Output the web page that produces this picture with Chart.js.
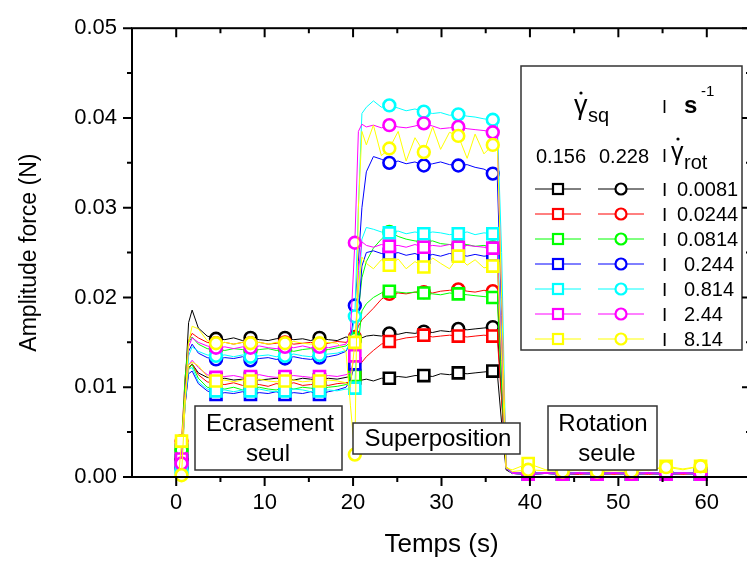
<!DOCTYPE html>
<html>
<head>
<meta charset="utf-8">
<title>Amplitude force vs temps</title>
<script src="https://cdn.jsdelivr.net/npm/chart.js"></script>
<style>
  html, body { margin: 0; padding: 0; overflow: hidden; background: #fff; }
  canvas { display: block; }
</style>
</head>
<body>
<canvas id="forceChart" width="760" height="562"></canvas>
<script>
// time grid (s), shared by all series
const times = [0, 0.3, 0.6, 1.0, 1.4, 1.8, 2.5, 3.5,
  4.5, 5.5, 6.5, 7.5, 8.4, 9.4, 10.4, 11.3, 12.3, 13.3, 14.3, 15.2, 16.2, 17.2, 18.2, 19.2, 19.7,
  20.2, 20.6, 21.0, 21.5, 22.3, 23.2,
  24.1, 25.1, 26.0, 27.0, 28.0, 29.0, 29.9, 30.9, 31.9, 32.9, 33.8, 34.8, 35.8, 36.3,
  36.8, 37.3,
  38.0, 39.8, 41.8, 43.7, 45.6, 47.6, 49.5, 51.5, 53.4, 55.4, 57.3, 59.3, 60.0];
// times where a marker is drawn
const markerTimes = [0.6, 4.5, 8.4, 12.3, 16.2, 20.2, 24.1, 28.0, 31.9, 35.8, 39.8, 43.7, 47.6, 51.5, 55.4, 59.3];

const sqRates = ['0.156', '0.228'];
const rotRates = ['0.0081', '0.0244', '0.0814', '0.244', '0.814', '2.44', '8.14'];
const xTicks = [0, 10, 20, 30, 40, 50, 60];
const yTicks = [0, 0.01, 0.02, 0.03, 0.04, 0.05];

// amplitude force (N), squeeze rate 0.156 s-1 (squares)
const s156_r0_0081 = [0, 0.0003, 0.0030, 0.0095, 0.0122, 0.0126, 0.0116, 0.0111,
  0.0109, 0.0110, 0.0108, 0.0109, 0.0110, 0.0108, 0.0109, 0.0110, 0.0109, 0.0108, 0.0110, 0.0109, 0.0108, 0.0110, 0.0109, 0.0111, 0.0112,
  0.0111, 0.0109, 0.0108, 0.0109, 0.0107, 0.0110,
  0.0110, 0.0112, 0.0111, 0.0113, 0.0113, 0.0112, 0.0115, 0.0114, 0.0116, 0.0115, 0.0116, 0.0117, 0.0118, 0.0117,
  0.0060, 0.0008,
  0.0004, 0.0003, 0.0004, 0.0003, 0.0004, 0.0003, 0.0004, 0.0003, 0.0004, 0.0003, 0.0004, 0.0003, 0.0003];
const s156_r0_0244 = [0, 0.0001, 0.0015, 0.0080, 0.0120, 0.0126, 0.0114, 0.0106,
  0.0104, 0.0103, 0.0105, 0.0102, 0.0104, 0.0103, 0.0101, 0.0104, 0.0103, 0.0105, 0.0102, 0.0103, 0.0104, 0.0102, 0.0104, 0.0105, 0.0106,
  0.0110, 0.0122, 0.0128, 0.0134, 0.0141, 0.0148,
  0.0151, 0.0153, 0.0155, 0.0156, 0.0158, 0.0156, 0.0157, 0.0158, 0.0157, 0.0156, 0.0157, 0.0158, 0.0157, 0.0157,
  0.0085, 0.0010,
  0.0004, 0.0003, 0.0004, 0.0003, 0.0003, 0.0004, 0.0003, 0.0004, 0.0003, 0.0004, 0.0003, 0.0004, 0.0003];
const s156_r0_0814 = [0, 0.0002, 0.0029, 0.0090, 0.0122, 0.0125, 0.0110, 0.0100,
  0.0099, 0.0098, 0.0100, 0.0097, 0.0099, 0.0100, 0.0098, 0.0097, 0.0099, 0.0098, 0.0100, 0.0099, 0.0098, 0.0100, 0.0101, 0.0103, 0.0106,
  0.0113, 0.0150, 0.0185, 0.0193, 0.0200, 0.0205,
  0.0207, 0.0206, 0.0205, 0.0206, 0.0205, 0.0204, 0.0203, 0.0205, 0.0204, 0.0203, 0.0202, 0.0201, 0.0200, 0.0199,
  0.0100, 0.0010,
  0.0004, 0.0003, 0.0004, 0.0003, 0.0004, 0.0003, 0.0004, 0.0003, 0.0004, 0.0003, 0.0004, 0.0003, 0.0003];
const s156_r0_244 = [0, 0.0002, 0.0018, 0.0080, 0.0115, 0.0118, 0.0104, 0.0096,
  0.0092, 0.0094, 0.0093, 0.0095, 0.0092, 0.0094, 0.0093, 0.0095, 0.0092, 0.0094, 0.0093, 0.0095, 0.0092, 0.0095, 0.0097, 0.0100, 0.0108,
  0.0126, 0.0180, 0.0235, 0.0250, 0.0252, 0.0249,
  0.0248, 0.0250, 0.0247, 0.0249, 0.0245, 0.0248, 0.0246, 0.0249, 0.0248, 0.0246, 0.0248, 0.0246, 0.0247, 0.0245,
  0.0120, 0.0010,
  0.0004, 0.0003, 0.0004, 0.0003, 0.0004, 0.0003, 0.0004, 0.0003, 0.0004, 0.0003, 0.0004, 0.0003, 0.0003];
const s156_r0_814 = [0, 0.0001, 0.0010, 0.0085, 0.0120, 0.0122, 0.0106, 0.0098,
  0.0096, 0.0097, 0.0095, 0.0097, 0.0096, 0.0098, 0.0096, 0.0095, 0.0096, 0.0098, 0.0097, 0.0095, 0.0096, 0.0097, 0.0096, 0.0098, 0.0098,
  0.0099, 0.0200, 0.0265, 0.0278, 0.0276, 0.0273,
  0.0272, 0.0274, 0.0271, 0.0273, 0.0271, 0.0273, 0.0272, 0.0270, 0.0271, 0.0273, 0.0270, 0.0272, 0.0271, 0.0270,
  0.0150, 0.0010,
  0.0004, 0.0003, 0.0004, 0.0003, 0.0004, 0.0003, 0.0004, 0.0003, 0.0004, 0.0003, 0.0004, 0.0003, 0.0003];
const s156_r2_44 = [0, 0.0002, 0.0020, 0.0090, 0.0125, 0.0130, 0.0122, 0.0114,
  0.0111, 0.0112, 0.0113, 0.0111, 0.0112, 0.0114, 0.0112, 0.0111, 0.0112, 0.0113, 0.0112, 0.0111, 0.0112, 0.0113, 0.0112, 0.0114, 0.0116,
  0.0135, 0.0230, 0.0262, 0.0258, 0.0256, 0.0259,
  0.0257, 0.0258, 0.0256, 0.0259, 0.0256, 0.0258, 0.0257, 0.0259, 0.0256, 0.0258, 0.0257, 0.0256, 0.0255, 0.0254,
  0.0140, 0.0010,
  0.0004, 0.0003, 0.0004, 0.0003, 0.0004, 0.0003, 0.0004, 0.0003, 0.0004, 0.0003, 0.0004, 0.0003, 0.0003];
const s156_r8_14 = [0, 0.0003, 0.0040, 0.0090, 0.0125, 0.0128, 0.0124, 0.0112,
  0.0107, 0.0108, 0.0106, 0.0108, 0.0107, 0.0109, 0.0107, 0.0106, 0.0107, 0.0108, 0.0106, 0.0107, 0.0107, 0.0108, 0.0107, 0.0105, 0.0100,
  0.0150, 0.0208, 0.0245, 0.0238, 0.0232, 0.0242,
  0.0236, 0.0243, 0.0232, 0.0240, 0.0234, 0.0244, 0.0238, 0.0232, 0.0246, 0.0236, 0.0242, 0.0233, 0.0235, 0.0240,
  0.0130, 0.0010,
  0.0008, 0.0015, 0.0008, 0.0010, 0.0007, 0.0009, 0.0008, 0.0010, 0.0007, 0.0012, 0.0009, 0.0012, 0.0008];

// amplitude force (N), squeeze rate 0.228 s-1 (circles)
const s228_r0_0081 = [0, 0.0002, 0.0020, 0.0100, 0.0172, 0.0186, 0.0166, 0.0157,
  0.0154, 0.0153, 0.0155, 0.0152, 0.0155, 0.0153, 0.0152, 0.0154, 0.0155, 0.0153, 0.0154, 0.0152, 0.0155, 0.0153, 0.0152, 0.0156, 0.0155,
  0.0153, 0.0152, 0.0155, 0.0157, 0.0158, 0.0157,
  0.0160, 0.0159, 0.0161, 0.0160, 0.0162, 0.0161, 0.0163, 0.0162, 0.0165, 0.0164, 0.0165, 0.0166, 0.0167, 0.0166,
  0.0090, 0.0010,
  0.0005, 0.0004, 0.0005, 0.0004, 0.0005, 0.0004, 0.0005, 0.0004, 0.0005, 0.0004, 0.0005, 0.0004, 0.0004];
const s228_r0_0244 = [0, 0.0004, 0.0040, 0.0110, 0.0152, 0.0160, 0.0155, 0.0150,
  0.0149, 0.0150, 0.0148, 0.0150, 0.0149, 0.0150, 0.0148, 0.0149, 0.0150, 0.0148, 0.0149, 0.0150, 0.0148, 0.0149, 0.0151, 0.0150, 0.0152,
  0.0156, 0.0168, 0.0175, 0.0180, 0.0188, 0.0198,
  0.0204, 0.0205, 0.0204, 0.0206, 0.0206, 0.0205, 0.0207, 0.0208, 0.0209, 0.0207, 0.0206, 0.0208, 0.0207, 0.0206,
  0.0110, 0.0012,
  0.0005, 0.0004, 0.0005, 0.0004, 0.0005, 0.0004, 0.0005, 0.0004, 0.0005, 0.0004, 0.0005, 0.0004, 0.0004];
const s228_r0_0814 = [0, 0.0003, 0.0030, 0.0110, 0.0150, 0.0156, 0.0148, 0.0143,
  0.0142, 0.0141, 0.0143, 0.0142, 0.0140, 0.0142, 0.0143, 0.0141, 0.0142, 0.0140, 0.0142, 0.0143, 0.0141, 0.0142, 0.0144, 0.0146, 0.0150,
  0.0154, 0.0185, 0.0222, 0.0240, 0.0255, 0.0265,
  0.0273, 0.0268, 0.0265, 0.0263, 0.0262, 0.0263, 0.0260, 0.0259, 0.0258, 0.0259, 0.0257, 0.0258, 0.0256, 0.0255,
  0.0120, 0.0012,
  0.0005, 0.0004, 0.0005, 0.0004, 0.0005, 0.0004, 0.0005, 0.0004, 0.0005, 0.0004, 0.0005, 0.0004, 0.0004];
const s228_r0_244 = [0, 0.0002, 0.0010, 0.0090, 0.0140, 0.0148, 0.0138, 0.0133,
  0.0131, 0.0133, 0.0132, 0.0134, 0.0130, 0.0132, 0.0133, 0.0131, 0.0132, 0.0134, 0.0132, 0.0131, 0.0133, 0.0134, 0.0136, 0.0140, 0.0150,
  0.0191, 0.0240, 0.0300, 0.0340, 0.0357, 0.0354,
  0.0350, 0.0352, 0.0349, 0.0351, 0.0347, 0.0349, 0.0351, 0.0348, 0.0347, 0.0348, 0.0345, 0.0343, 0.0338, 0.0336,
  0.0180, 0.0012,
  0.0005, 0.0004, 0.0005, 0.0004, 0.0005, 0.0004, 0.0005, 0.0004, 0.0005, 0.0004, 0.0005, 0.0004, 0.0004];
const s228_r0_814 = [0, 0.0001, 0.0005, 0.0080, 0.0135, 0.0145, 0.0140, 0.0136,
  0.0135, 0.0136, 0.0134, 0.0136, 0.0134, 0.0135, 0.0136, 0.0134, 0.0135, 0.0137, 0.0135, 0.0134, 0.0136, 0.0137, 0.0138, 0.0141, 0.0150,
  0.0179, 0.0300, 0.0405, 0.0412, 0.0419, 0.0412,
  0.0414, 0.0411, 0.0408, 0.0410, 0.0407, 0.0405, 0.0406, 0.0403, 0.0404, 0.0402, 0.0401, 0.0399, 0.0398, 0.0397,
  0.0250, 0.0012,
  0.0005, 0.0004, 0.0005, 0.0004, 0.0005, 0.0004, 0.0005, 0.0004, 0.0005, 0.0004, 0.0005, 0.0004, 0.0004];
const s228_r2_44 = [0, 0.0002, 0.0015, 0.0090, 0.0145, 0.0155, 0.0150, 0.0146,
  0.0144, 0.0145, 0.0143, 0.0145, 0.0144, 0.0146, 0.0144, 0.0143, 0.0145, 0.0144, 0.0146, 0.0144, 0.0145, 0.0144, 0.0146, 0.0148, 0.0160,
  0.0261, 0.0385, 0.0393, 0.0390, 0.0392, 0.0389,
  0.0392, 0.0390, 0.0389, 0.0391, 0.0394, 0.0391, 0.0388, 0.0389, 0.0390, 0.0388, 0.0387, 0.0386, 0.0384, 0.0382,
  0.0200, 0.0012,
  0.0005, 0.0004, 0.0005, 0.0004, 0.0005, 0.0004, 0.0005, 0.0004, 0.0005, 0.0004, 0.0005, 0.0004, 0.0004];
const s228_r8_14 = [0, 0.0001, 0.0002, 0.0080, 0.0150, 0.0168, 0.0165, 0.0152,
  0.0149, 0.0150, 0.0148, 0.0150, 0.0149, 0.0150, 0.0148, 0.0150, 0.0149, 0.0151, 0.0149, 0.0148, 0.0149, 0.0150, 0.0149, 0.0140, 0.0080,
  0.0025, 0.0300, 0.0385, 0.0370, 0.0392, 0.0358,
  0.0366, 0.0385, 0.0352, 0.0378, 0.0362, 0.0390, 0.0365, 0.0384, 0.0380, 0.0355, 0.0382, 0.0360, 0.0370, 0.0375,
  0.0200, 0.0012,
  0.0006, 0.0008, 0.0007, 0.0006, 0.0008, 0.0006, 0.0007, 0.0006, 0.0008, 0.0011, 0.0008, 0.0012, 0.0006];

const series156 = [s156_r0_0081, s156_r0_0244, s156_r0_0814, s156_r0_244, s156_r0_814, s156_r2_44, s156_r8_14];
const series228 = [s228_r0_0081, s228_r0_0244, s228_r0_0814, s228_r0_244, s228_r0_814, s228_r2_44, s228_r8_14];

const colors = ['#000000', '#ff0000', '#00ff00', '#0000ff', '#00ffff', '#ff00ff', '#ffff00'];
const FONT = '"Liberation Sans", Arial, sans-serif';

Chart.defaults.font.family = FONT;
Chart.defaults.color = '#000';

const datasets = [];
rotRates.forEach((rot, i) => {
  [[series156[i], 'rect', sqRates[0]], [series228[i], 'circle', sqRates[1]]].forEach(([vals, style, sq], j) => {
    datasets.push({
      label: 'sq ' + sq + ' / rot ' + rot,
      data: vals.map((v, k) => ({ x: times[k], y: v })),
      borderColor: colors[i],
      borderWidth: 1,
      pointStyle: style,
      pointRadius: ctx => markerTimes.includes(times[ctx.dataIndex]) ? (style === 'rect' ? 7.8 : 5.9) : 0,
      pointHoverRadius: 0,
      pointBorderWidth: 2.6,
      pointBorderColor: colors[i],
      pointBackgroundColor: '#ffffff',
      tension: 0,
      clip: 10,
      order: 20 - (2 * i + j)
    });
  });
});

// little dot above the gamma letters
function gammaDot(ctx, x, y) {
  ctx.beginPath();
  ctx.arc(x, y, 1.6, 0, Math.PI * 2);
  ctx.fill();
}

function textBox(ctx, x, y, w, h, lines) {
  ctx.fillStyle = '#fff';
  ctx.fillRect(x, y, w, h);
  ctx.strokeStyle = '#333';
  ctx.lineWidth = 1.5;
  ctx.strokeRect(x, y, w, h);
  ctx.fillStyle = '#000';
  ctx.font = '24px ' + FONT;
  ctx.textAlign = 'center';
  ctx.textBaseline = 'alphabetic';
  lines.forEach(l => ctx.fillText(l[0], l[1], l[2]));
}

const decorPlugin = {
  id: 'decor',
  afterDatasetsDraw(chart) {
    const { ctx, chartArea: a, scales: { x, y } } = chart;
    ctx.save();

    // annotation boxes
    textBox(ctx, 195, 406, 147, 64, [['Ecrasement', 270, 431], ['seul', 268, 461]]);
    textBox(ctx, 353, 423, 167, 31, [['Superposition', 438, 446]]);
    textBox(ctx, 548, 406, 109, 64, [['Rotation', 603, 431], ['seule', 607, 461]]);

    // legend box
    ctx.fillStyle = '#fff';
    ctx.fillRect(521, 66, 221, 284);
    ctx.strokeStyle = '#333';
    ctx.lineWidth = 1.5;
    ctx.strokeRect(521, 66, 221, 284);

    ctx.fillStyle = '#000';
    ctx.textAlign = 'left';
    ctx.textBaseline = 'alphabetic';
    ctx.font = '27px ' + FONT;
    ctx.fillText('γ', 574, 114);
    gammaDot(ctx, 581, 93);
    ctx.font = '20px ' + FONT;
    ctx.fillText('sq', 588, 122);
    ctx.font = '18px ' + FONT;
    ctx.fillText('I', 662, 113);
    ctx.font = 'bold 24px ' + FONT;
    ctx.fillText('s', 684, 113);
    ctx.font = '15px ' + FONT;
    ctx.fillText('-1', 701, 96);

    ctx.font = '20px ' + FONT;
    ctx.fillText(sqRates[0], 536, 163);
    ctx.fillText(sqRates[1], 599, 163);
    ctx.font = '18px ' + FONT;
    ctx.fillText('I', 662, 162);
    ctx.font = '25px ' + FONT;
    ctx.fillText('γ', 671, 160);
    gammaDot(ctx, 678, 139);
    ctx.font = '20px ' + FONT;
    ctx.fillText('rot', 684, 169);

    rotRates.forEach((rot, i) => {
      const ry = 189 + 25 * i;
      ctx.strokeStyle = colors[i];
      ctx.lineWidth = 1;
      ctx.beginPath();
      ctx.moveTo(535, ry); ctx.lineTo(581, ry);
      ctx.moveTo(598, ry); ctx.lineTo(644, ry);
      ctx.stroke();
      ctx.lineWidth = 2.2;
      ctx.fillStyle = '#fff';
      ctx.fillRect(553, ry - 5, 10, 10);
      ctx.strokeRect(553, ry - 5, 10, 10);
      ctx.beginPath();
      ctx.arc(621, ry, 5.5, 0, Math.PI * 2);
      ctx.fill();
      ctx.stroke();
      ctx.fillStyle = '#000';
      ctx.font = '19px ' + FONT;
      ctx.fillText('I', 662, ry + 7);
      ctx.font = '20px ' + FONT;
      ctx.fillText(rot, rot.length > 5 ? 677 : 684, ry + 7);
    });

    // frame and ticks
    ctx.strokeStyle = '#000';
    ctx.lineWidth = 2;
    ctx.strokeRect(a.left, a.top, a.right - a.left, a.bottom - a.top);
    ctx.beginPath();
    xTicks.forEach(v => {
      [[v, 9], [v + 5, 5]].forEach(([t, len]) => {
        const px = x.getPixelForValue(t);
        if (px > a.right) return;
        ctx.moveTo(px, a.bottom); ctx.lineTo(px, a.bottom + len);
        ctx.moveTo(px, a.top); ctx.lineTo(px, a.top + len);
      });
    });
    yTicks.forEach(v => {
      [[v, 9], [v + 0.005, 5]].forEach(([t, len]) => {
        if (t > 0.0501) return;
        const py = y.getPixelForValue(t);
        ctx.moveTo(a.left, py); ctx.lineTo(a.left - len, py);
        ctx.moveTo(a.right, py); ctx.lineTo(a.right - len, py);
      });
    });
    ctx.stroke();
    ctx.restore();
  }
};

new Chart(document.getElementById('forceChart'), {
  type: 'line',
  data: { datasets },
  plugins: [decorPlugin],
  options: {
    responsive: false,
    animation: false,
    events: [],
    layout: { padding: { top: 19, right: 9, left: 0, bottom: 0 } },
    plugins: { legend: { display: false }, tooltip: { enabled: false } },
    scales: {
      x: {
        type: 'linear',
        min: -5,
        max: 65,
        afterBuildTicks: s => { s.ticks = xTicks.map(v => ({ value: v })); },
        afterFit: s => { s.height = 85; },
        grid: { display: false, drawTicks: false },
        border: { display: false },
        ticks: { font: { size: 22 }, padding: 13, maxRotation: 0, autoSkip: false },
        title: { display: true, text: 'Temps (s)', font: { size: 26 }, padding: { top: 0, bottom: 2 } }
      },
      y: {
        type: 'linear',
        min: 0,
        max: 0.05,
        afterBuildTicks: s => { s.ticks = yTicks.map(v => ({ value: v })); },
        afterFit: s => { s.width = 132; },
        grid: { display: false, drawTicks: false },
        border: { display: false },
        ticks: { font: { size: 22 }, padding: 15, callback: v => v.toFixed(2) },
        title: { display: true, text: 'Amplitude force (N)', font: { size: 23 }, padding: { top: 16, bottom: 0 } }
      }
    }
  }
});
</script>
</body>
</html>
